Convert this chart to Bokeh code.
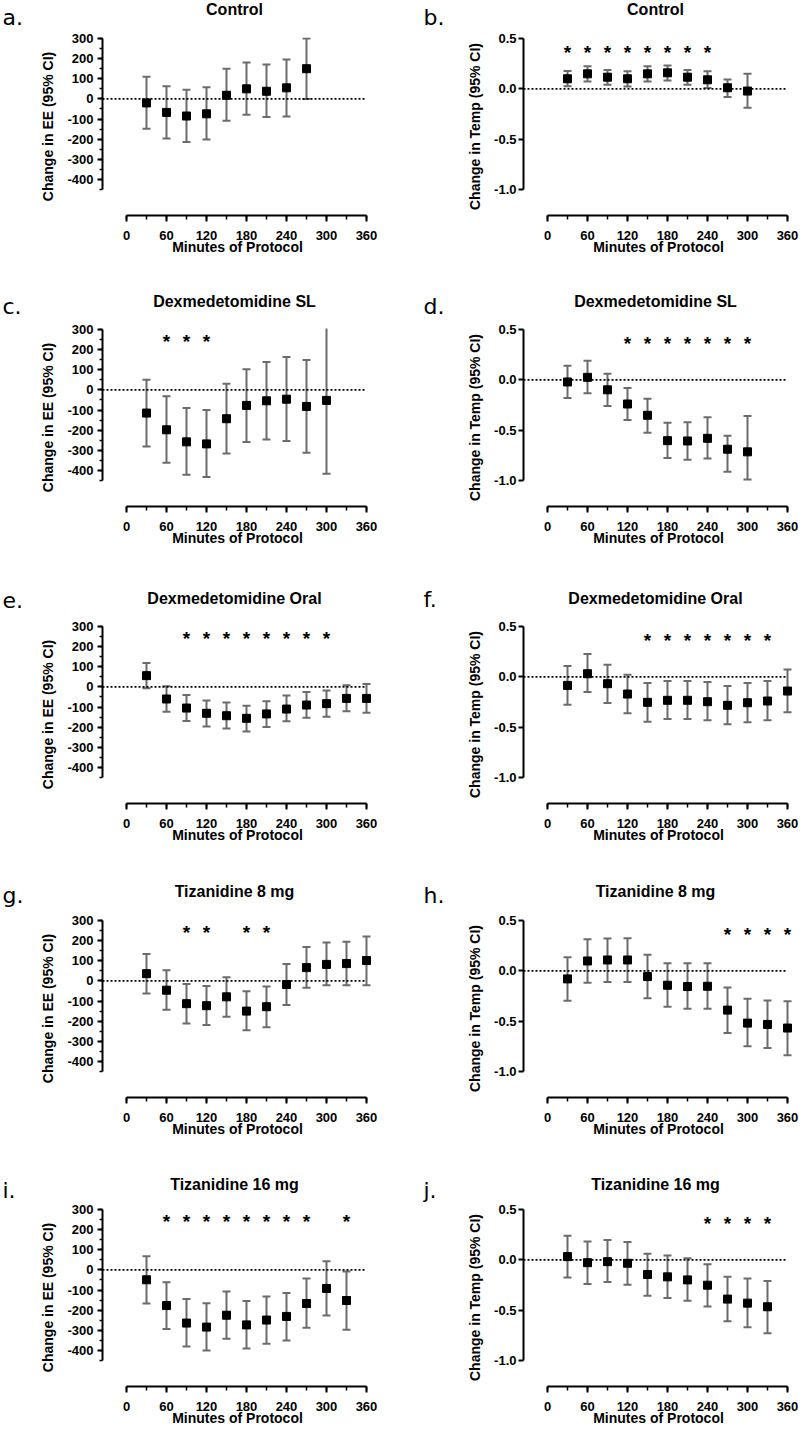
from bokeh.plotting import figure
from bokeh.layouts import column, row
from bokeh.models import (ColumnDataSource, Whisker, TeeHead, LinearAxis, SingleIntervalTicker,
                          FixedTicker, PrintfTickFormatter, Range1d)
from bokeh.core.properties import value
from bokeh.embed import file_html
from bokeh.resources import INLINE

# ---------------- data ----------------
min_a = [30, 60, 90, 120, 150, 180, 210, 240, 270]
ee_control = [-20, -67, -85, -74, 18, 50, 38, 55, 150]
ee_control_lo = [-148, -196, -214, -201, -109, -79, -90, -87, 0]
ee_control_hi = [110, 63, 45, 58, 150, 181, 171, 196, 300]
stars_a = []

min_b = [30, 60, 90, 120, 150, 180, 210, 240, 270, 300]
t_control = [0.10, 0.149, 0.116, 0.10, 0.149, 0.159, 0.116, 0.09, 0.011, -0.022]
t_control_lo = [0.027, 0.073, 0.04, 0.024, 0.073, 0.083, 0.04, 0.008, -0.081, -0.189]
t_control_hi = [0.178, 0.224, 0.188, 0.175, 0.224, 0.231, 0.188, 0.175, 0.093, 0.149]
stars_b = [30, 60, 90, 120, 150, 180, 210, 240]

min_c = [30, 60, 90, 120, 150, 180, 210, 240, 270, 300]
ee_dex_sl = [-115, -198, -258, -268, -143, -77, -54, -46, -82, -52]
ee_dex_sl_lo = [-281, -362, -421, -433, -316, -259, -246, -254, -312, -416]
ee_dex_sl_hi = [50, -31, -90, -100, 30, 103, 139, 163, 149, 312]
stars_c = [60, 90, 120]

min_d = [30, 60, 90, 120, 150, 180, 210, 240, 270, 300]
t_dex_sl = [-0.021, 0.025, -0.099, -0.24, -0.352, -0.604, -0.607, -0.581, -0.689, -0.715]
t_dex_sl_lo = [-0.181, -0.132, -0.26, -0.40, -0.525, -0.777, -0.794, -0.781, -0.912, -0.99]
t_dex_sl_hi = [0.14, 0.189, 0.061, -0.08, -0.188, -0.427, -0.42, -0.371, -0.555, -0.358]
stars_d = [120, 150, 180, 210, 240, 270, 300]

min_e = [30, 60, 90, 120, 150, 180, 210, 240, 270, 300, 330, 360]
ee_dex_oral = [56, -60, -105, -131, -143, -156, -134, -110, -90, -83, -57, -57]
ee_dex_oral_lo = [-7, -123, -169, -196, -207, -221, -199, -171, -153, -148, -121, -128]
ee_dex_oral_hi = [119, 3, -40, -68, -78, -93, -71, -43, -25, -18, 8, 15]
stars_e = [90, 120, 150, 180, 210, 240, 270, 300]

min_f = [30, 60, 90, 120, 150, 180, 210, 240, 270, 300, 330, 360]
t_dex_oral = [-0.085, 0.031, -0.068, -0.171, -0.253, -0.233, -0.233, -0.247, -0.283, -0.257, -0.24, -0.141]
t_dex_oral_lo = [-0.276, -0.151, -0.26, -0.362, -0.445, -0.418, -0.418, -0.432, -0.471, -0.451, -0.432, -0.352]
t_dex_oral_hi = [0.107, 0.226, 0.12, 0.021, -0.062, -0.042, -0.042, -0.052, -0.091, -0.062, -0.042, 0.074]
stars_f = [150, 180, 210, 240, 270, 300, 330]

min_g = [30, 60, 90, 120, 150, 180, 210, 240, 270, 300, 330, 360]
ee_tiz8 = [36, -46, -113, -123, -79, -150, -128, -18, 66, 82, 86, 101]
ee_tiz8_lo = [-62, -143, -211, -219, -178, -245, -230, -120, -34, -21, -21, -21]
ee_tiz8_hi = [134, 53, -15, -25, 18, -51, -28, 84, 168, 191, 195, 221]
stars_g = [90, 120, 180, 210]

min_h = [30, 60, 90, 120, 150, 180, 210, 240, 270, 300, 330, 360]
t_tiz8 = [-0.08, 0.098, 0.108, 0.108, -0.057, -0.143, -0.156, -0.153, -0.39, -0.519, -0.532, -0.568]
t_tiz8_lo = [-0.298, -0.117, -0.11, -0.11, -0.272, -0.357, -0.377, -0.377, -0.618, -0.75, -0.766, -0.839]
t_tiz8_hi = [0.134, 0.315, 0.322, 0.325, 0.16, 0.075, 0.075, 0.075, -0.166, -0.278, -0.295, -0.301]
stars_h = [270, 300, 330, 360]

min_i = [30, 60, 90, 120, 150, 180, 210, 240, 270, 300, 330]
ee_tiz16 = [-49, -177, -264, -284, -225, -273, -249, -231, -167, -92, -152]
ee_tiz16_lo = [-167, -294, -380, -400, -342, -390, -367, -350, -287, -226, -297]
ee_tiz16_hi = [68, -61, -145, -165, -107, -155, -132, -115, -43, 43, -8]
stars_i = [60, 90, 120, 150, 180, 210, 240, 270, 330]

min_j = [30, 60, 90, 120, 150, 180, 210, 240, 270, 300, 330]
t_tiz16 = [0.032, -0.028, -0.018, -0.034, -0.146, -0.169, -0.199, -0.252, -0.39, -0.43, -0.466]
t_tiz16_lo = [-0.176, -0.239, -0.219, -0.248, -0.357, -0.38, -0.407, -0.463, -0.611, -0.67, -0.73]
t_tiz16_hi = [0.24, 0.183, 0.197, 0.177, 0.061, 0.042, 0.015, -0.044, -0.169, -0.186, -0.209]
stars_j = [240, 270, 300, 330]

letters = ["a.", "b.", "c.", "d.", "e.", "f.", "g.", "h.", "i.", "j."]
titles = ["Control", "Control", "Dexmedetomidine SL", "Dexmedetomidine SL",
          "Dexmedetomidine Oral", "Dexmedetomidine Oral", "Tizanidine 8 mg", "Tizanidine 8 mg",
          "Tizanidine 16 mg", "Tizanidine 16 mg"]
x_label = "Minutes of Protocol"
ee_label = "Change in EE (95% CI)"
temp_label = "Change in Temp (95% CI)"

panels = [
    (min_a, ee_control, ee_control_lo, ee_control_hi, stars_a, "ee"),
    (min_b, t_control, t_control_lo, t_control_hi, stars_b, "t"),
    (min_c, ee_dex_sl, ee_dex_sl_lo, ee_dex_sl_hi, stars_c, "ee"),
    (min_d, t_dex_sl, t_dex_sl_lo, t_dex_sl_hi, stars_d, "t"),
    (min_e, ee_dex_oral, ee_dex_oral_lo, ee_dex_oral_hi, stars_e, "ee"),
    (min_f, t_dex_oral, t_dex_oral_lo, t_dex_oral_hi, stars_f, "t"),
    (min_g, ee_tiz8, ee_tiz8_lo, ee_tiz8_hi, stars_g, "ee"),
    (min_h, t_tiz8, t_tiz8_lo, t_tiz8_hi, stars_h, "t"),
    (min_i, ee_tiz16, ee_tiz16_lo, ee_tiz16_hi, stars_i, "ee"),
    (min_j, t_tiz16, t_tiz16_lo, t_tiz16_hi, stars_j, "t"),
]

# ---------------- layout / style ----------------
FONT = "Liberation Sans"
PAGE_W = 800
FRAME_W, FRAME_H = 270, 178
X_START, X_END = -36, 369
BOTTOM = 43
PANEL_TOP = [7, 7, 7, 7, 5]            # border above each row's frame
HEADER_H = [30, 63, 69, 66, 63]        # header strip above each row
TITLE_BASE = [14.7, 48.7, 54.3, 50.7, 50.0]   # title baseline inside header
LETTER_BASE = [24.5, 55.3, 57.7, 56.5, 57.5]  # letter baseline inside header
TITLE_X = [234, 655]
LETTER_X = [2, 423]
STAR_EE, STAR_T = 258, 0.405
ERR_COLOR = "#6b6b6b"
MID = 0.35   # baseline offset (em) for middle-anchored text


def style_axis(ax, label_standoff):
    ax.axis_line_width = 2
    ax.axis_line_color = "black"
    ax.major_tick_line_width = 2
    ax.major_tick_line_color = "black"
    ax.minor_tick_line_width = 1.5
    ax.minor_tick_line_color = "black"
    ax.major_tick_in = 0
    ax.minor_tick_in = 0
    ax.major_label_text_font = FONT
    ax.major_label_text_font_style = "bold"
    ax.major_label_text_font_size = "13px"
    ax.major_label_text_color = "black"
    ax.axis_label_text_font = FONT
    ax.axis_label_text_font_style = "bold"
    ax.axis_label_text_font_size = "14px"
    ax.axis_label_text_color = "black"
    ax.major_label_standoff = label_standoff


def make_header(r):
    hh = HEADER_H[r]
    h = figure(width=PAGE_W, height=hh, x_range=Range1d(0, PAGE_W), y_range=Range1d(hh, 0),
               output_backend="svg", toolbar_location=None, x_axis_type=None, y_axis_type=None,
               min_border=0, title=None)
    h.outline_line_color = None
    h.grid.visible = False
    h.text(x=TITLE_X, y=[TITLE_BASE[r] - MID * 16] * 2, text=[titles[2 * r], titles[2 * r + 1]],
           text_align="center", text_baseline="middle", text_font=value(FONT),
           text_font_style="bold", text_font_size="16px", text_color="black")
    h.text(x=LETTER_X, y=[LETTER_BASE[r] - MID * 22] * 2, text=[letters[2 * r], letters[2 * r + 1]],
           text_align="left", text_baseline="middle", text_font=value("DejaVu Sans"),
           text_font_size="22px", text_color="black")
    return h


def make_panel(idx):
    mins, mean, lo, hi, stars, kind = panels[idx]
    r, c = divmod(idx, 2)
    width = 400
    left = 102 if c == 0 else 123
    right = width - left - FRAME_W
    top = PANEL_TOP[r]
    height = top + FRAME_H + BOTTOM
    yr = Range1d(-579, 305) if kind == "ee" else Range1d(-1.258, 0.51)
    p = figure(width=width, height=height, x_range=Range1d(X_START, X_END), y_range=yr,
               output_backend="svg", toolbar_location=None, x_axis_type=None, y_axis_type=None,
               min_border_left=left, min_border_right=right, min_border_top=top,
               min_border_bottom=BOTTOM, title=None)
    p.grid.visible = False
    p.outline_line_color = None

    xa = LinearAxis(bounds=(0, 360), ticker=SingleIntervalTicker(interval=60, num_minor_ticks=2),
                    axis_label=x_label)
    style_axis(xa, 9)
    xa.major_tick_out = 6
    xa.minor_tick_out = 4
    xa.axis_label_standoff = -4
    p.add_layout(xa, "below")

    if kind == "ee":
        ya = LinearAxis(bounds=(-450, 300), ticker=SingleIntervalTicker(interval=100, num_minor_ticks=2),
                        formatter=PrintfTickFormatter(format="%d"), axis_label=ee_label)
        style_axis(ya, 4)
    else:
        ya = LinearAxis(bounds=(-1.0, 0.5), ticker=FixedTicker(ticks=[-1.0, -0.5, 0.0, 0.5], minor_ticks=[]),
                        formatter=PrintfTickFormatter(format="%.1f"), axis_label=temp_label)
        style_axis(ya, 2)
    ya.major_tick_out = 5
    ya.minor_tick_out = 3
    ya.axis_label_standoff = 8
    p.add_layout(ya, "left")

    p.segment(x0=[X_START], y0=[0], x1=[360], y1=[0], line_color="black", line_width=1.6,
              line_dash="2 2")

    src = ColumnDataSource(dict(x=mins, mean=mean, lo=lo, hi=hi))
    w = Whisker(source=src, base="x", upper="hi", lower="lo", dimension="height",
                line_color=ERR_COLOR, line_width=2,
                upper_head=TeeHead(size=8, line_color=ERR_COLOR, line_width=2),
                lower_head=TeeHead(size=8, line_color=ERR_COLOR, line_width=2))
    p.add_layout(w)
    p.scatter("x", "mean", source=src, marker="square", size=8, fill_color="black", line_color="black")

    if stars:
        sy = STAR_EE if kind == "ee" else STAR_T
        p.text(x=stars, y=[sy] * len(stars), text=["*"] * len(stars), text_align="center",
               text_baseline="middle", y_offset=4, text_font=value(FONT),
               text_font_style="bold", text_font_size="19px", text_color="black")
    return p


figs = [make_panel(i) for i in range(10)]
blocks = []
for k in range(5):
    blocks.append(make_header(k))
    blocks.append(row(figs[2 * k], figs[2 * k + 1]))
layout = column(*blocks)

open("out.html", "w").write(file_html(layout, INLINE))
